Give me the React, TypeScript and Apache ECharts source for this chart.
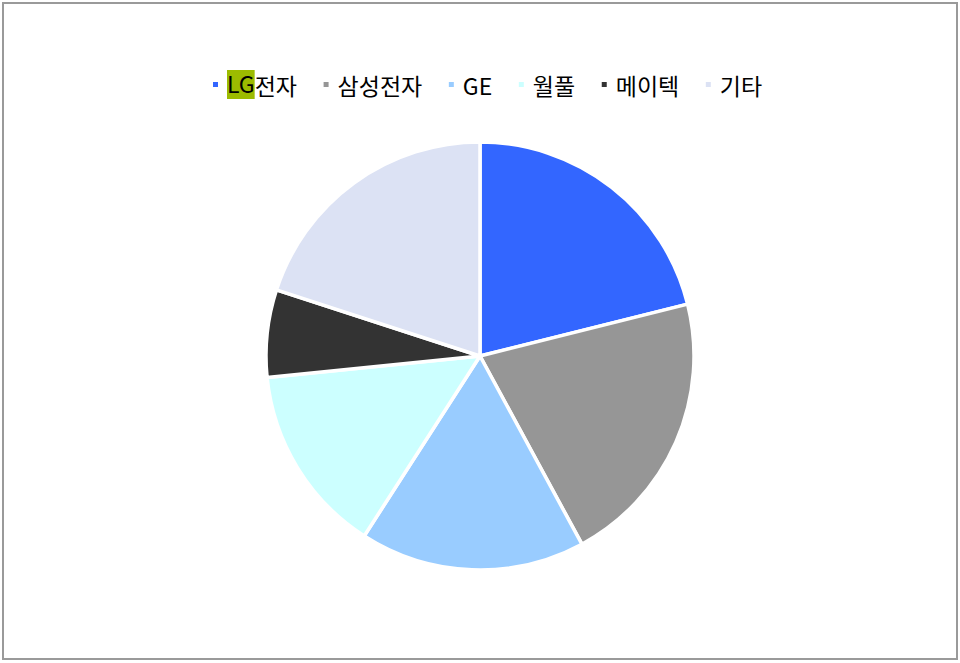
import React, { useEffect, useRef } from "react";
import * as echarts from "echarts";

const categories = ["LG전자", "삼성전자", "GE", "월풀", "메이텍", "기타"];
const values = [21.1, 21.0, 17.0, 14.3, 6.6, 20.0];
const colors = ["#3366FF", "#969696", "#99CCFF", "#CCFFFF", "#333333", "#DCE2F4"];

export default function App() {
  const ref = useRef<HTMLDivElement>(null);
  useEffect(() => {
    if (!ref.current) return;
    const chart = echarts.init(ref.current, undefined, { renderer: "svg" });
    const font = "'Noto Sans CJK KR', 'Noto Sans', sans-serif";
    chart.setOption({
      animation: false,
      backgroundColor: "#FFFFFF",
      textStyle: { fontFamily: font },
      graphic: [
        {
          type: "rect",
          shape: { x: 3, y: 3, width: 954, height: 656 },
          style: { fill: "none", stroke: "#9A9A9A", lineWidth: 2 },
          silent: true,
        },
      ],
      legend: {
        top: 65,
        left: 206,
        icon: "rect",
        itemWidth: 7,
        itemHeight: 7,
        itemGap: 24.6,
        selectedMode: false,
        data: categories,
        formatter: (name: string) =>
          name === "LG전자" ? "{sp| }{hl|LG}{t|전자}" : "{sp| }{t|" + name + "}",
        textStyle: {
          fontSize: 23,
          color: "#000000",
          fontFamily: font,
          rich: {
            sp: { width: 3, fontSize: 23, lineHeight: 26 },
            hl: {
              fontSize: 23,
              color: "#000000",
              backgroundColor: "#9CBB00",
              lineHeight: 22,
              padding: [1, 0, 5, 0],
              fontFamily: font,
            },
            t: {
              fontSize: 23,
              color: "#000000",
              lineHeight: 26,
              fontFamily: font,
            },
          },
        },
      },
      series: [
        {
          type: "pie",
          center: [480, 356],
          radius: 214,
          startAngle: 90,
          clockwise: true,
          label: { show: false },
          labelLine: { show: false },
          emphasis: { disabled: true },
          itemStyle: { borderColor: "#FFFFFF", borderWidth: 3.5 },
          data: categories.map((name, i) => ({
            name,
            value: values[i],
            itemStyle: { color: colors[i] },
          })),
        },
      ],
    });
    return () => chart.dispose();
  }, []);
  return (
    <div
      ref={ref}
      style={{ position: "absolute", left: 0, top: 0, width: 960, height: 663 }}
    />
  );
}
